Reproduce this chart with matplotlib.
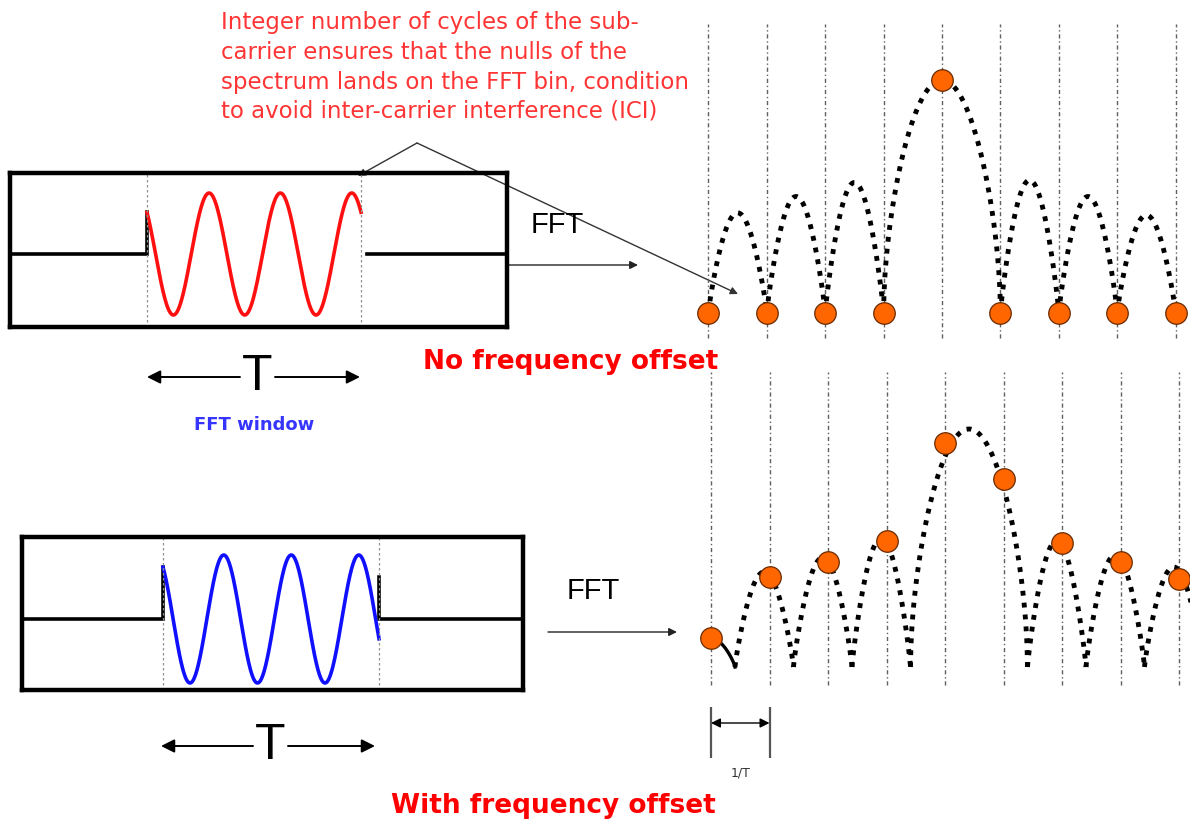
import numpy as np
import matplotlib
matplotlib.use('Agg')
import matplotlib.pyplot as plt

# ── values ──────────────────────────────────────────────────────────────
# time domain: sub-carrier inside the FFT window (t in units of T)
TOP_CYCLES, TOP_PHASE = 3.0, 0.13        # integer number of cycles
BOT_CYCLES, BOT_PHASE = 3.2, 0.10        # with frequency offset
BOT_RIGHT_STEP = 0.66                    # black step at the window end

# spectrum: FFT bins and lobes
BINS = [-4, -3, -2, -1, 0, 1, 2, 3, 4]
TOP_SAMPLES = [0, 0, 0, 0, 1.0, 0, 0, 0, 0]
TOP_NULLS = [-4, -3, -2, -1, 1, 2, 3, 4]
TOP_LOBES = [0.43, 0.50, 0.56, 1.0, 0.57, 0.50, 0.42]

BOT_SAMPLES = [0.12, 0.38, 0.44, 0.53, 0.94, 0.79, 0.52, 0.44, 0.37]
BOT_NULLS = [-3.59, -2.59, -1.59, -0.59, 1.41, 2.41, 3.41, 4.41]
BOT_LOBES = [0.40, 0.46, 0.54, 1.0, 0.53, 0.47, 0.42]
BOT_TAIL = (-4.0, -3.59, 0.12)           # short solid piece at the left

NOTE_LINES = ["Integer number of cycles of the sub-",
              "carrier ensures that the nulls of the",
              "spectrum lands on the FFT bin, condition",
              "to avoid inter-carrier interference (ICI)"]

W, H = 1190, 826
fig = plt.figure(figsize=(W / 100, H / 100), dpi=100)


def px_axes(x0, y0, x1, y1):
    ax = fig.add_axes([x0 / W, 1 - y1 / H, (x1 - x0) / W, (y1 - y0) / H])
    ax.patch.set_visible(False)
    return ax


# background axes in pixel units for labels and arrows
bg = px_axes(0, 0, W, H)
bg.set_xlim(0, W)
bg.set_ylim(H, 0)
bg.axis('off')


def time_box(box, t0_px, t1_px, base_px, amp_px, cycles, phase, color, right_step=None):
    x0, y0, x1, y1 = box
    ax = px_axes(*box)
    T = t1_px - t0_px
    ax.set_xlim((x0 - t0_px) / T, (x1 - t0_px) / T)
    ax.set_ylim(-(y1 - base_px) / amp_px, (base_px - y0) / amp_px)
    ax.set_xticks([])
    ax.set_yticks([])
    for s in ax.spines.values():
        s.set_linewidth(3.2)
        s.set_color('black')
    t = np.linspace(0, 1, 500)
    wave = np.cos(2 * np.pi * (cycles * t + phase))
    lo, hi = ax.get_xlim()
    ax.plot([lo, 0, 0], [0, 0, wave[0]], color='black', lw=2.6, solid_joinstyle='miter')
    if right_step is None:
        ax.plot([1.03, hi], [0, 0], color='black', lw=2.6)
    else:
        ax.plot([1.0, 1.0, hi], [right_step, 0, 0], color='black', lw=2.6,
                solid_joinstyle='miter')
    ax.plot(t, wave, color=color, lw=2.6)
    ax.axvline(0, color='#8a958a', lw=0.9, ls=(0, (2, 2)))
    ax.axvline(1, color='#8a958a', lw=0.9, ls=(0, (2, 2)))
    return ax


time_box((10, 173, 507, 327), 147, 361, 254, 61, TOP_CYCLES, TOP_PHASE, '#ff1010')
time_box((22, 537, 523, 690), 163, 379, 619, 64, BOT_CYCLES, BOT_PHASE, '#1010ff',
         right_step=BOT_RIGHT_STEP)


def lobe(ax, a, b, h, p):
    u = np.linspace(0, 1, 300)
    ax.plot(a + (b - a) * u, h * np.sin(np.pi * u) ** p, color='black', lw=3.5,
            ls=(0, (1, 1.45)), dash_capstyle='butt')


def spectrum(box, center_px, step_px, null_px, unit_px, line_px, nulls, lobes, samples):
    x0, y0, x1, y1 = box
    ax = px_axes(*box)
    ax.set_xlim((x0 - center_px) / step_px, (x1 - center_px) / step_px)
    ax.set_ylim(-(y1 - null_px) / unit_px, (null_px - y0) / unit_px)
    ax.axis('off')
    ax.vlines(BINS, -(line_px[1] - null_px) / unit_px, (null_px - line_px[0]) / unit_px,
              color='#606060', lw=1.0, linestyles=[(0, (3, 2, 1, 2))])
    for a, b, h in zip(nulls[:-1], nulls[1:], lobes):
        lobe(ax, a, b, h, 0.55 if h >= 1 else 0.85)
    ax.plot(BINS, samples, 'o', ms=15.5, color='#ff6600', mec='#6a2a00', mew=0.9,
            clip_on=False, zorder=5)
    return ax


spectrum((690, 10, 1190, 345), 942, 58.4, 313, 233, (24, 338),
         TOP_NULLS, TOP_LOBES, TOP_SAMPLES)
axb = spectrum((690, 365, 1190, 700), 945, 58.5, 667, 238, (372, 685),
               BOT_NULLS, BOT_LOBES, BOT_SAMPLES)

# solid tail of the previous lobe at the left edge
a, b, h = BOT_TAIL
u = np.linspace(0, 1, 100)
axb.plot(a + (b - a) * u, h * np.cos(np.pi / 2 * u) ** 0.8, color='black', lw=2.4)

# 1/T bracket under the first two bins
yb = lambda y: -(y - 667) / 238
axb.vlines([-4, -3], yb(707), yb(758), color='#555555', lw=1.6, clip_on=False)
axb.annotate('', xy=(-4, yb(723)), xytext=(-3, yb(723)), annotation_clip=False,
             arrowprops=dict(arrowstyle='<|-|>', color='black', lw=1.0,
                             mutation_scale=14, shrinkA=0, shrinkB=0))
axb.text(-3.5, yb(773), '1/T', ha='center', va='center', fontsize=9, color='#333333')

# ── labels and arrows ───────────────────────────────────────────────────
for i, line in enumerate(NOTE_LINES):
    bg.text(221, 23 + i * 29.5, line, ha='left', va='center', fontsize=16.5,
            color='#ff3535', family='DejaVu Sans')

apex = (417, 143)
for tip in [(358, 176), (738, 294)]:
    bg.annotate('', xy=tip, xytext=apex,
                arrowprops=dict(arrowstyle='-|>', color='#333333', lw=1.0,
                                mutation_scale=11, shrinkA=0, shrinkB=0))

# FFT arrows
bg.text(557, 225, 'FFT', ha='center', va='center', fontsize=21, family='Liberation Sans')
bg.annotate('', xy=(638, 265), xytext=(507, 265),
            arrowprops=dict(arrowstyle='-|>', color='#222222', lw=1.0,
                            mutation_scale=12, shrinkA=0, shrinkB=0))
bg.text(593, 591, 'FFT', ha='center', va='center', fontsize=21, family='Liberation Sans')
bg.annotate('', xy=(677, 632), xytext=(548, 632),
            arrowprops=dict(arrowstyle='-|>', color='#222222', lw=1.0,
                            mutation_scale=12, shrinkA=0, shrinkB=0))

# T arrows
for tl, tc, tr, y in [(147, 257, 360, 377), (161, 270, 375, 746)]:
    bg.text(tc, y, 'T', ha='center', va='center', fontsize=36, family='Liberation Sans')
    for tip, tail in [(tl, tc - 17), (tr, tc + 18)]:
        bg.annotate('', xy=(tip, y), xytext=(tail, y),
                    arrowprops=dict(arrowstyle='-|>', color='black', lw=1.4,
                                    mutation_scale=20, shrinkA=0, shrinkB=0))

bg.text(254, 425, 'FFT window', ha='center', va='center', fontsize=13,
        fontweight='bold', color='#3535ff', family='DejaVu Sans')
bg.text(571, 362, 'No frequency offset', ha='center', va='center', fontsize=19,
        fontweight='bold', color='#ff0000', family='DejaVu Sans')
bg.text(553, 806, 'With frequency offset', ha='center', va='center', fontsize=19,
        fontweight='bold', color='#ff0000', family='DejaVu Sans')

fig.savefig('out.png', dpi=100)
